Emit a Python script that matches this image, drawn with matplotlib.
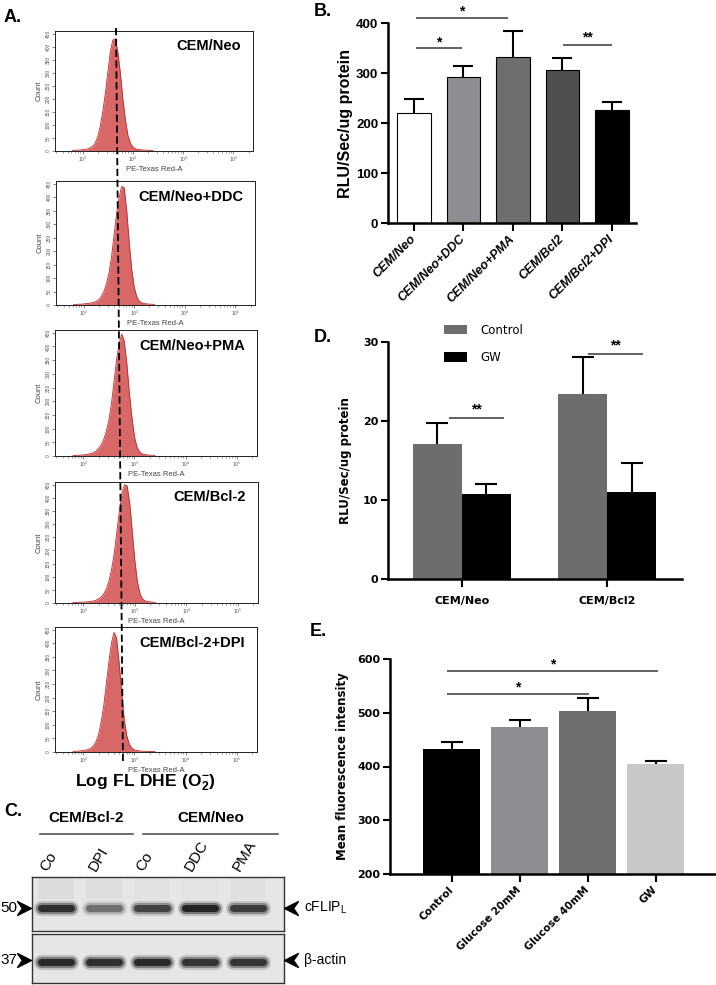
import numpy as np
import matplotlib.pyplot as plt
from matplotlib.path import Path

plt.rcParams['font.family'] = ['Liberation Sans', 'DejaVu Sans']
plt.rcParams['mathtext.fontset'] = 'custom'
plt.rcParams['mathtext.rm'] = 'Liberation Sans'
plt.rcParams['mathtext.bf'] = 'Liberation Sans:bold'

W, H = 716, 985

# ---- data ----
# A: flow cytometry histograms (log10 fluorescence vs count)
hist_names = ['CEM/Neo', 'CEM/Neo+DDC', 'CEM/Neo+PMA', 'CEM/Bcl-2', 'CEM/Bcl-2+DPI']
hist_logx = [1.80, 1.85, 1.90, 1.95, 2.00, 2.05, 2.10, 2.15, 2.20, 2.25, 2.30,
             2.35, 2.40, 2.45, 2.50, 2.55, 2.60, 2.65, 2.70, 2.75, 2.80, 2.85,
             2.90, 2.95, 3.00, 3.05, 3.10, 3.15, 3.20, 3.25, 3.30, 3.35, 3.40]
counts_neo = [2, 3, 3, 4, 5, 6, 8, 12, 18, 30, 55, 95, 150, 220, 300, 380, 425,
              430, 380, 300, 200, 120, 60, 30, 15, 9, 6, 5, 4, 3, 3, 2, 2]
counts_ddc = [2, 2, 3, 3, 4, 5, 6, 8, 10, 14, 20, 32, 50, 80, 120, 180, 260,
              340, 400, 440, 435, 350, 230, 130, 65, 30, 14, 8, 5, 4, 3, 3, 2]
counts_pma = [2, 2, 3, 3, 4, 5, 7, 9, 12, 18, 28, 40, 60, 90, 130, 190, 270,
              350, 410, 445, 420, 340, 230, 140, 70, 32, 15, 8, 5, 4, 3, 3, 2]
counts_bcl2 = [2, 2, 2, 3, 3, 4, 5, 6, 8, 11, 16, 24, 36, 55, 85, 130, 190,
               270, 350, 420, 450, 445, 380, 270, 160, 80, 35, 15, 8, 5, 4, 3, 2]
counts_dpi = [2, 3, 3, 4, 5, 7, 9, 14, 22, 38, 65, 110, 170, 250, 330, 400, 440,
              420, 330, 220, 120, 60, 28, 14, 8, 5, 4, 3, 3, 2, 2, 2, 2]
hist_counts = [counts_neo, counts_ddc, counts_pma, counts_bcl2, counts_dpi]

# B
b_labels = ['CEM/Neo', 'CEM/Neo+DDC', 'CEM/Neo+PMA', 'CEM/Bcl2', 'CEM/Bcl2+DPI']
b_means = [220, 293, 333, 307, 226]
b_err = [28, 22, 52, 23, 17]
b_colors = ['white', '#8e8e92', '#6e6e6e', '#4f4f4f', 'black']

# C: western blot band intensities
blot_lanes = ['Co', 'DPI', 'Co', 'DDC', 'PMA']
cflip_level = [0.85, 0.45, 0.7, 0.95, 0.75]
cflip_smear = [0.5, 0.4, 0.25, 0.15, 0.3]
actin_level = [0.9, 0.85, 0.9, 0.8, 0.8]

# D
d_groups = ['CEM/Neo', 'CEM/Bcl2']
d_control = [17.1, 23.4]
d_control_err = [2.7, 4.7]
d_gw = [10.7, 11.0]
d_gw_err = [1.3, 3.7]

# E
e_labels = ['Control', 'Glucose 20mM', 'Glucose 40mM', 'GW']
e_means = [433, 473, 503, 405]
e_err = [12, 14, 25, 5]
e_colors = ['black', '#8e8e92', '#6e6e6e', '#c8c8c8']


def rect(l, t, r, b):
    return [l / W, 1 - b / H, (r - l) / W, (b - t) / H]


def sig(ax, x0, x1, y, text, dy):
    ax.plot([x0, x1], [y, y], color='#555555', lw=1.3, clip_on=False,
            solid_capstyle='butt')
    ax.text((x0 + x1) / 2, y + dy, text, ha='center', va='center',
            fontsize=10, fontweight='bold', clip_on=False)


def up_err(ax, x, y, err, cap):
    # only the upper half of the error bar, no cap at the bar top
    eb = ax.errorbar(x, y, yerr=[np.zeros(len(err)), err], fmt='none',
                     ecolor='black', elinewidth=1.5, capsize=cap, capthick=1.5,
                     zorder=1)
    eb[1][0].set_visible(False)


fig = plt.figure(figsize=(7.16, 9.85), dpi=100)

# ---- A: histograms ----
hist_rects = [(55, 31, 253, 151), (56, 181, 255, 305), (55, 330, 257, 456),
              (55, 482, 258, 603), (55, 627, 257, 752)]
xs = 10 ** np.array(hist_logx)
for name, counts, r in zip(hist_names, hist_counts, hist_rects):
    ax = fig.add_axes(rect(*r))
    ax.fill_between(xs, counts, color='#d86767', lw=0)
    ax.plot(xs, counts, color='#c62828', lw=0.6)
    ax.set_xscale('log')
    ax.set_xlim(10 ** 1.45, 10 ** 5.39)
    ax.set_ylim(0, 460)
    ax.set_yticks(range(0, 451, 50))
    ax.tick_params(labelsize=3.5, length=2, width=0.5, colors='#555555', pad=1)
    ax.tick_params(which='minor', length=1.5, width=0.4, colors='#555555')
    for lab in ax.get_yticklabels():
        lab.set_rotation(90)
        lab.set_va('center')
    for s in ax.spines.values():
        s.set_linewidth(0.7)
        s.set_color('#222222')
    ax.set_ylabel('Count', fontsize=5.5, color='#444444', labelpad=2)
    ax.set_xlabel('PE-Texas Red-A', fontsize=5.5, color='#444444', labelpad=1)
    ax.text(0.94, 0.93, name, transform=ax.transAxes, ha='right', va='top',
            fontsize=10.5, fontweight='bold')

# ---- B ----
axb = fig.add_axes(rect(388, 23, 636, 223))
xb = np.arange(len(b_labels))
axb.bar(xb, b_means, width=0.67, color=b_colors, edgecolor='black',
        linewidth=0.8, zorder=2)
up_err(axb, xb, b_means, b_err, 7)
axb.set_xlim(-0.525, 4.485)
axb.set_ylim(0, 400)
axb.set_yticks([0, 100, 200, 300, 400])
axb.set_xticks(xb)
axb.set_xticklabels(b_labels, rotation=45, ha='right', va='center',
                    rotation_mode='anchor', fontsize=9, fontweight='bold',
                    fontstyle='italic')
for lab in axb.get_yticklabels():
    lab.set_fontweight('bold')
axb.tick_params(axis='y', labelsize=9.5, width=1.5, length=5, pad=2)
axb.tick_params(axis='x', width=1.5, length=6, pad=4)
axb.spines[['top', 'right']].set_visible(False)
axb.spines[['left', 'bottom']].set_linewidth(1.8)
axb.set_ylabel('RLU/Sec/ug protein', fontsize=11.5, fontweight='bold', labelpad=2)
sig(axb, 0.04, 0.97, 350, '*', 12)
sig(axb, 0.04, 1.9, 410, '*', 14)
sig(axb, 3.01, 4.0, 357, '**', 14)

# ---- D ----
axd = fig.add_axes(rect(388, 342, 682, 579))
xd = np.arange(len(d_groups))
bw = 0.338
axd.bar(xd - bw / 2, d_control, width=bw, color='#6d6d6d', label='Control', zorder=2)
axd.bar(xd + bw / 2, d_gw, width=bw, color='black', label='GW', zorder=2)
up_err(axd, xd - bw / 2, d_control, d_control_err, 8)
up_err(axd, xd + bw / 2, d_gw, d_gw_err, 8)
axd.set_xlim(-0.51, 1.517)
axd.set_ylim(0, 30)
axd.set_yticks([0, 10, 20, 30])
axd.set_xticks(xd)
axd.set_xticklabels(d_groups, fontsize=8, fontweight='bold', family='DejaVu Sans')
for lab in axd.get_yticklabels():
    lab.set_fontweight('bold')
    lab.set_family('DejaVu Sans')
axd.tick_params(axis='y', labelsize=8, width=1.5, length=5, pad=2)
axd.tick_params(axis='x', width=1.5, length=6, pad=6)
axd.spines[['top', 'right']].set_visible(False)
axd.spines[['left', 'bottom']].set_linewidth(1.8)
axd.set_ylabel('RLU/Sec/ug protein', fontsize=8.5, fontweight='bold',
               family='DejaVu Sans', labelpad=8)
sig(axd, -0.09, 0.29, 20.4, '**', 1.1)
sig(axd, 0.87, 1.25, 28.5, '**', 1.1)
fig.legend(*axd.get_legend_handles_labels(), loc='upper left',
           bbox_to_anchor=(433 / W, 1 - 313 / H), frameon=False,
           handlelength=2.0, handleheight=0.9, labelspacing=1.2,
           handletextpad=1.1, prop={'family': 'DejaVu Sans', 'size': 8.5})

# ---- E ----
axe = fig.add_axes(rect(390, 659, 715, 874))
xe = np.arange(len(e_labels))
axe.bar(xe, e_means, width=0.84, color=e_colors, zorder=2)
up_err(axe, xe, e_means, e_err, 8)
axe.set_xlim(-0.91, 3.87)
axe.set_ylim(200, 600)
axe.set_yticks([200, 300, 400, 500, 600])
axe.set_xticks(xe)
axe.set_xticklabels(e_labels, rotation=45, ha='right', va='center',
                    rotation_mode='anchor', fontsize=7.5, fontweight='bold',
                    family='DejaVu Sans')
for lab in axe.get_yticklabels():
    lab.set_fontweight('bold')
    lab.set_family('DejaVu Sans')
axe.tick_params(axis='y', labelsize=8, width=1.5, length=5, pad=2)
axe.tick_params(axis='x', width=1.5, length=6, pad=4)
axe.spines[['top', 'right']].set_visible(False)
axe.spines[['left', 'bottom']].set_linewidth(1.8)
axe.set_ylabel('Mean fluorescence intensity', fontsize=8.5, fontweight='bold',
               family='DejaVu Sans', labelpad=6)
sig(axe, -0.07, 3.03, 578, '*', 12)
sig(axe, -0.07, 2.01, 535, '*', 12)

# ---- C: western blot ----
for (t, b), levels, smear in zip([(877, 931), (934, 983)],
                                 [cflip_level, actin_level],
                                 [cflip_smear, [0, 0, 0, 0, 0]]):
    axc = fig.add_axes(rect(32, t, 284, b))
    axc.set_facecolor('#e6e6e6')
    for i, (lv, sm) in enumerate(zip(levels, smear)):
        axc.fill_between([i - 0.38, i + 0.38], 0.6, 0.98, color='#9a9a9a',
                         alpha=0.25 * sm, lw=0)
        for lw, a in [(11, 0.2), (8, 0.45), (5, 0.9)]:
            axc.plot([i - 0.32, i + 0.32], [0.43, 0.43], color='#151515', lw=lw,
                     alpha=a * lv, solid_capstyle='round')
    axc.set_xlim(-0.5, 4.75)
    axc.set_ylim(0, 1)
    axc.set_xticks([])
    axc.set_yticks([])
    for s in axc.spines.values():
        s.set_linewidth(1.0)
        s.set_color('#333333')

# ---- overlay for annotations in pixel coords ----
ov = fig.add_axes([0, 0, 1, 1], zorder=10)
ov.set_xlim(0, W)
ov.set_ylim(H, 0)
ov.axis('off')
ov.patch.set_alpha(0)

ov.plot([116, 123], [28, 762], color='black', lw=1.3, dashes=(4, 2))

for txt, x, y in [('A.', 4, 18), ('B.', 314, 12), ('C.', 4, 812),
                  ('D.', 314, 338), ('E.', 310, 632)]:
    ov.text(x, y, txt, fontsize=13, fontweight='bold', va='center')

ov.text(145, 783, r'$\mathbf{Log\ FL\ DHE\ (O_2^{-})}$', ha='center',
        va='center', fontsize=12.5)

# blot labels
for name, x0, x1 in [('CEM/Bcl-2', 40, 133), ('CEM/Neo', 143, 278)]:
    ov.plot([x0, x1], [834, 834], color='#555555', lw=1.2)
    ov.text((x0 + x1) / 2, 825, name, ha='center', va='bottom', fontsize=11,
            fontweight='bold')
for i, lane in enumerate(blot_lanes):
    ov.text(50 + 48 * i, 873, lane, rotation=60, ha='left', va='bottom',
            rotation_mode='anchor', fontsize=11)

chev_r = Path([(-1, 1), (1, 0), (-1, -1), (-0.3, 0), (-1, 1)],
              [Path.MOVETO, Path.LINETO, Path.LINETO, Path.LINETO, Path.CLOSEPOLY])
chev_l = Path([(1, 1), (-1, 0), (1, -1), (0.3, 0), (1, 1)],
              [Path.MOVETO, Path.LINETO, Path.LINETO, Path.LINETO, Path.CLOSEPOLY])
for y, mw in [(908, '50'), (960, '37')]:
    ov.text(0, y, mw, ha='left', va='center', fontsize=11)
    ov.plot(24, y, marker=chev_r, ms=10, color='black')
    ov.plot(291, y, marker=chev_l, ms=10, color='black')
ov.text(304, 908, r'cFLIP$\mathregular{_L}$', ha='left', va='center', fontsize=10)
ov.text(304, 960, 'β-actin', ha='left', va='center', fontsize=10)

fig.savefig('out.png', dpi=100)
